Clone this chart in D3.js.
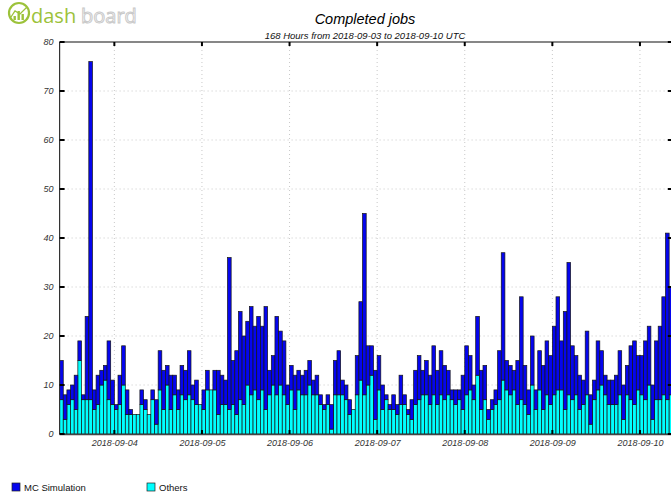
<!DOCTYPE html>
<html><head><meta charset="utf-8">
<script src="https://cdn.jsdelivr.net/npm/d3@7/dist/d3.min.js"></script>
<style>
html,body{margin:0;padding:0;background:#fff;}
svg{display:block;}
</style></head>
<body>
<script>
const title = "Completed jobs";
const subtitle = "168 Hours from 2018-09-03 to 2018-09-10 UTC";
const startHour = "2018-09-03T09:00:00Z";
const seriesNames = ["MC Simulation", "Others"];
const seriesColors = ["#0505ee", "#00ffff"];
const yTicks = [0, 10, 20, 30, 40, 50, 60, 70, 80];
const dayTicks = ["2018-09-04", "2018-09-05", "2018-09-06", "2018-09-07", "2018-09-08", "2018-09-09", "2018-09-10"];

const mcSimulation = [
 8,5,3,3,7,4,1,17,69,4, 6,3,3,12,5,1,6,8,5,1, 0,0,3,2,0,2,5,8,8,4,
 7,4,4,6,6,9,3,5,0,4, 4,0,4,9,6,5,31,9,13,18, 14,13,18,13,17,13,21,5,6,16,
 11,11,4,5,7,4,4,5,5,3, 4,2,1,2,5,7,9,3,3,3, 0,8,16,37,8,6,10,7,5,1,
 1,3,2,6,2,1,4,7,9,5, 7,6,10,7,9,7,5,2,3,2, 7,10,7,3,12,8,7,2,2,3,
 10,26,6,6,4,9,21,8,5,10, 4,8,9,11,10,14,19,10,20,27, 11,8,7,5,13,6,4,10,7,4,
 5,5,6,9,7,6,11,13,7,8, 12,12,7,12,15,20,34,22
];
const others = [
 7,3,6,7,5,15,7,7,7,5, 6,10,11,7,6,5,6,10,4,4, 4,4,6,5,4,7,2,9,5,10,
 5,8,5,8,7,8,7,6,6,5, 9,9,9,4,6,6,5,6,4,7, 6,10,8,9,7,9,5,8,10,8,
 10,8,6,9,5,9,8,8,10,8, 8,6,5,6,1,8,8,8,7,4, 5,8,11,8,10,12,3,9,5,7,
 5,5,4,6,6,4,3,6,7,8, 8,6,8,6,8,7,8,7,6,7, 5,8,9,7,12,5,7,3,5,6,
 7,11,9,8,9,6,7,6,4,10, 5,9,5,8,6,8,9,9,5,8, 7,8,5,6,8,2,7,9,10,8,
 6,6,6,8,3,8,7,6,9,8, 7,10,3,7,7,8,7,8
];

const W = 671, H = 493;
const m = {left: 59.6, top: 42, bottom: 434};
const hourW = 3.65;
const t0 = new Date(startHour);
const nHours = 168;
const t1 = new Date(t0.getTime() + nHours * 3600e3);

const svg = d3.select("body").append("svg").attr("width", W).attr("height", H);

const x = d3.scaleUtc().domain([t0, t1]).range([m.left, m.left + nHours * hourW]);
const y = d3.scaleLinear().domain([0, 80]).range([m.bottom, m.top]);
const right = x(t1);

const data = mcSimulation.map((v, i) => ({
  t: new Date(t0.getTime() + i * 3600e3),
  mc: v, ot: others[i]
}));
const dayDates = dayTicks.map(s => new Date(s + "T00:00:00Z"));

// grid
const grid = svg.append("g");
grid.selectAll("line.h").data(yTicks.filter(v => v > 0 && v < 80)).join("line")
  .attr("x1", m.left).attr("x2", right)
  .attr("y1", d => y(d)).attr("y2", d => y(d))
  .attr("stroke", "#c8c8c8").attr("stroke-width", 1).attr("stroke-dasharray", "1,3");
grid.selectAll("line.v").data(dayDates).join("line")
  .attr("x1", d => x(d)).attr("x2", d => x(d))
  .attr("y1", m.top).attr("y2", m.bottom)
  .attr("stroke", "#c8c8c8").attr("stroke-width", 1).attr("stroke-dasharray", "1,3");

// bars
const bars = svg.append("g").attr("stroke", "#151515").attr("stroke-width", 0.7);
bars.selectAll("rect.o").data(data).join("rect")
  .attr("x", d => x(d.t)).attr("width", hourW)
  .attr("y", d => y(d.ot)).attr("height", d => y(0) - y(d.ot))
  .attr("fill", seriesColors[1]);
bars.selectAll("rect.m").data(data.filter(d => d.mc > 0)).join("rect")
  .attr("x", d => x(d.t)).attr("width", hourW)
  .attr("y", d => y(d.ot + d.mc)).attr("height", d => y(d.ot) - y(d.ot + d.mc))
  .attr("fill", seriesColors[0]);

// frame
svg.append("line").attr("x1", m.left).attr("x2", W).attr("y1", m.top).attr("y2", m.top)
  .attr("stroke", "#111").attr("stroke-width", 1.2);
svg.append("line").attr("x1", m.left).attr("x2", m.left).attr("y1", m.top).attr("y2", m.bottom)
  .attr("stroke", "#333").attr("stroke-width", 1.2);
svg.append("line").attr("x1", m.left).attr("x2", W).attr("y1", m.bottom + 0.5).attr("y2", m.bottom + 0.5)
  .attr("stroke", "#444").attr("stroke-width", 1.3);

// y axis
const yAxis = d3.axisLeft(y).tickValues(yTicks).tickSize(0).tickPadding(6);
const gy = svg.append("g").attr("transform", `translate(${m.left},0)`).call(yAxis);
gy.select(".domain").remove();
gy.selectAll("text").attr("font-family", "Liberation Sans, Arial, sans-serif")
  .attr("font-style", "italic").attr("font-size", 9).attr("fill", "#333");
svg.append("g").selectAll("line").data(yTicks).join("line")
  .attr("x1", m.left).attr("x2", m.left + 5)
  .attr("y1", d => y(d)).attr("y2", d => y(d))
  .attr("stroke", "#000").attr("stroke-width", 2);
svg.append("g").selectAll("line").data(yTicks).join("line")
  .attr("x1", right - 5).attr("x2", right)
  .attr("y1", d => y(d)).attr("y2", d => y(d))
  .attr("stroke", "#000").attr("stroke-width", 2);

// x axis
const xAxis = d3.axisBottom(x).tickValues(dayDates).tickSize(0).tickPadding(6)
  .tickFormat(d3.utcFormat("%Y-%m-%d"));
const gx = svg.append("g").attr("transform", `translate(0,${m.bottom})`).call(xAxis);
gx.select(".domain").remove();
gx.selectAll("text").attr("font-family", "Liberation Sans, Arial, sans-serif")
  .attr("font-style", "italic").attr("font-size", 9).attr("fill", "#333");
svg.append("g").selectAll("line").data(dayDates).join("line")
  .attr("x1", d => x(d)).attr("x2", d => x(d))
  .attr("y1", m.bottom - 4).attr("y2", m.bottom)
  .attr("stroke", "#000").attr("stroke-width", 2);
svg.append("g").selectAll("line").data(dayDates).join("line")
  .attr("x1", d => x(d)).attr("x2", d => x(d))
  .attr("y1", m.top).attr("y2", m.top + 4)
  .attr("stroke", "#000").attr("stroke-width", 2);

// titles
svg.append("text").attr("x", 365).attr("y", 24).attr("text-anchor", "middle")
  .attr("font-family", "Liberation Sans, Arial, sans-serif").attr("font-style", "italic")
  .attr("font-size", 14.5).attr("fill", "#000").text(title);
svg.append("text").attr("x", 365).attr("y", 38.5).attr("text-anchor", "middle")
  .attr("font-family", "Liberation Sans, Arial, sans-serif").attr("font-style", "italic")
  .attr("font-size", 9.5).attr("fill", "#111").text(subtitle);

// logo
const logo = svg.append("g");
logo.append("circle").attr("cx", 19).attr("cy", 13).attr("r", 10)
  .attr("fill", "none").attr("stroke", "#9cc23a").attr("stroke-width", 2.2);
[[13.5,16,4],[17.5,11,9],[21.5,14,6]].forEach(([bx, by, bh]) => {
  logo.append("rect").attr("x", bx).attr("y", by).attr("width", 2.4).attr("height", bh)
    .attr("fill", "#9cc23a");
});
logo.append("path").attr("d", "M11 17 L15 11 L20 14 L27 7").attr("fill", "none")
  .attr("stroke", "#9cc23a").attr("stroke-width", 1.3);
logo.append("text").attr("x", 31).attr("y", 22.5).attr("font-family", "Open Sans, DejaVu Sans, sans-serif")
  .attr("font-size", 20).attr("fill", "#9cc23a").attr("letter-spacing", 0).text("dash");
logo.append("text").attr("x", 81).attr("y", 22.5).attr("font-family", "Open Sans, DejaVu Sans, sans-serif")
  .attr("font-size", 20).attr("fill", "#fff").attr("stroke", "#c9c9c9").attr("stroke-width", 1)
  .attr("letter-spacing", 0).text("board");

// legend
const leg = svg.append("g").attr("font-family", "Liberation Sans, Arial, sans-serif").attr("font-size", 9.5);
const legX = [12, 147];
seriesNames.forEach((n, i) => {
  leg.append("rect").attr("x", legX[i]).attr("y", 483).attr("width", 8).attr("height", 8)
    .attr("fill", seriesColors[i]).attr("stroke", "#222").attr("stroke-width", 0.7);
  leg.append("text").attr("x", legX[i] + 12).attr("y", 490.5).attr("fill", "#111").text(n);
});
</script>
</body></html>
